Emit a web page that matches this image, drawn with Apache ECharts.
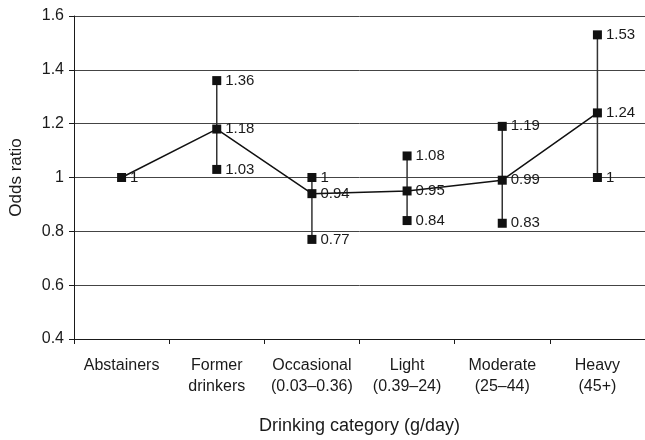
<!DOCTYPE html>
<html><head><meta charset="utf-8">
<script src="https://cdn.jsdelivr.net/npm/echarts@6/dist/echarts.min.js"></script>
<style>html,body{margin:0;padding:0;background:#fff}#c{width:645px;height:440px}</style>
</head><body><div id="c"></div>
<script>
var categories = ['Abstainers', 'Former\ndrinkers', 'Occasional\n(0.03\u20130.36)', 'Light\n(0.39\u201324)', 'Moderate\n(25\u201344)', 'Heavy\n(45+)'];
var oddsRatio = [1, 1.18, 0.94, 0.95, 0.99, 1.24];
var lowerCI = [null, 1.03, 0.77, 0.84, 0.83, 1];
var upperCI = [null, 1.36, 1, 1.08, 1.19, 1.53];
var yTicks = [0.4, 0.6, 0.8, 1.0, 1.2, 1.4, 1.6];

var font = 'Liberation Sans, Arial, sans-serif';
var labelStyle = {show: true, position: 'right', distance: 4, color: '#1a1a1a', fontSize: 15, fontFamily: font,
  opacity: 1, textBorderWidth: 0,
  formatter: function (p) { return String(p.value[1]); }};

function pts(arr) {
  var out = [];
  arr.forEach(function (v, i) { if (v !== null) out.push([i, v]); });
  return out;
}
var bars = [];
categories.forEach(function (c, i) { if (lowerCI[i] !== null) bars.push([i, lowerCI[i], upperCI[i]]); });

var chart = echarts.init(document.getElementById('c'));
chart.setOption({
  animation: false,
  grid: {left: 73, right: 0, top: 16, bottom: 94},
  xAxis: {
    type: 'category', data: categories, boundaryGap: true,
    name: 'Drinking category (g/day)', nameLocation: 'middle', nameGap: 78,
    nameTextStyle: {fontSize: 18, color: '#1a1a1a', fontFamily: font},
    axisLine: {lineStyle: {color: '#1a1a1a', width: 1}},
    axisTick: {show: true, length: 5, interval: 0, lineStyle: {color: '#1a1a1a'}},
    axisLabel: {interval: 0, fontSize: 16, color: '#1a1a1a', fontFamily: font, margin: 16, lineHeight: 21}
  },
  yAxis: {
    type: 'value', min: 0.4, max: 1.6, interval: 0.2,
    name: 'Odds ratio', nameLocation: 'middle', nameGap: 49,
    nameTextStyle: {fontSize: 17, color: '#1a1a1a', fontFamily: font},
    axisLine: {show: true, lineStyle: {color: '#1a1a1a', width: 1}},
    axisTick: {show: true, length: 5, lineStyle: {color: '#1a1a1a'}},
    axisLabel: {fontSize: 16, color: '#1a1a1a', fontFamily: font, margin: 10,
      formatter: function (v) { var r = Math.round(v * 10) / 10; return r === 1 ? '1' : r.toFixed(1); }},
    splitLine: {show: true, lineStyle: {color: '#444', width: 1}}
  },
  series: [
    {
      type: 'custom', z: 2, data: bars,
      renderItem: function (params, api) {
        var a = api.coord([api.value(0), api.value(1)]);
        var b = api.coord([api.value(0), api.value(2)]);
        return {type: 'line', shape: {x1: a[0], y1: a[1], x2: b[0], y2: b[1]},
          style: {stroke: '#333', lineWidth: 1.5}};
      }
    },
    {
      type: 'line', z: 3, data: pts(oddsRatio), symbol: 'rect', symbolSize: 9,
      itemStyle: {color: '#111', opacity: 1}, lineStyle: {color: '#111', width: 1.5},
      label: labelStyle
    },
    {
      type: 'scatter', z: 3, data: pts(lowerCI), symbol: 'rect', symbolSize: 9,
      itemStyle: {color: '#111', opacity: 1}, label: labelStyle
    },
    {
      type: 'scatter', z: 3, data: pts(upperCI), symbol: 'rect', symbolSize: 9,
      itemStyle: {color: '#111', opacity: 1}, label: labelStyle
    }
  ]
});
</script></body></html>
